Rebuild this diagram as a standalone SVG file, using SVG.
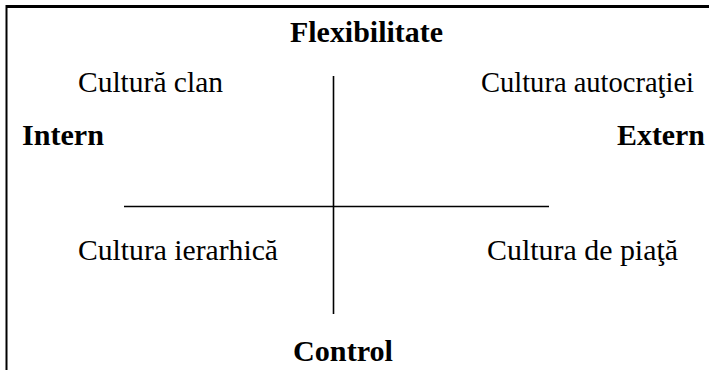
<svg xmlns="http://www.w3.org/2000/svg" width="709" height="370" viewBox="0 0 709 370">
<style>
text{font-family:'Liberation Serif','Times New Roman',Tinos,'Nimbus Roman','DejaVu Serif',serif;font-size:29px;fill:#000}
.b{font-weight:bold}
.ln{stroke:#000;fill:none}
</style>
<rect width="709" height="370" fill="#fff"/>
<g id="frame">
<line class="ln" x1="6" y1="6.5" x2="709" y2="6.5" stroke-width="3"/>
<line class="ln" x1="6.5" y1="5" x2="6.5" y2="370" stroke-width="2"/>
</g>
<g id="connectors">
<line class="ln" x1="124" y1="206.5" x2="549" y2="206.5" stroke-width="1.6"/>
<line class="ln" x1="333.5" y1="76" x2="333.5" y2="314" stroke-width="1.6"/>
</g>
<g id="flexibilitate"><text class="b" x="290" y="42" textLength="153" lengthAdjust="spacingAndGlyphs">Flexibilitate</text></g>
<g id="control"><text class="b" x="293" y="361" textLength="100" lengthAdjust="spacingAndGlyphs">Control</text></g>
<g id="intern"><text class="b" x="22" y="145" textLength="82" lengthAdjust="spacingAndGlyphs">Intern</text></g>
<g id="extern"><text class="b" x="617" y="145" textLength="88" lengthAdjust="spacingAndGlyphs">Extern</text></g>
<g id="clan"><text x="78" y="92" textLength="145" lengthAdjust="spacingAndGlyphs">Cultură clan</text></g>
<g id="autocratie"><text x="481" y="92" textLength="213" lengthAdjust="spacingAndGlyphs">Cultura autocraţiei</text></g>
<g id="ierarhica"><text x="78" y="260" textLength="200" lengthAdjust="spacingAndGlyphs">Cultura ierarhică</text></g>
<g id="piata"><text x="487" y="260" textLength="191" lengthAdjust="spacingAndGlyphs">Cultura de piaţă</text></g>
</svg>
